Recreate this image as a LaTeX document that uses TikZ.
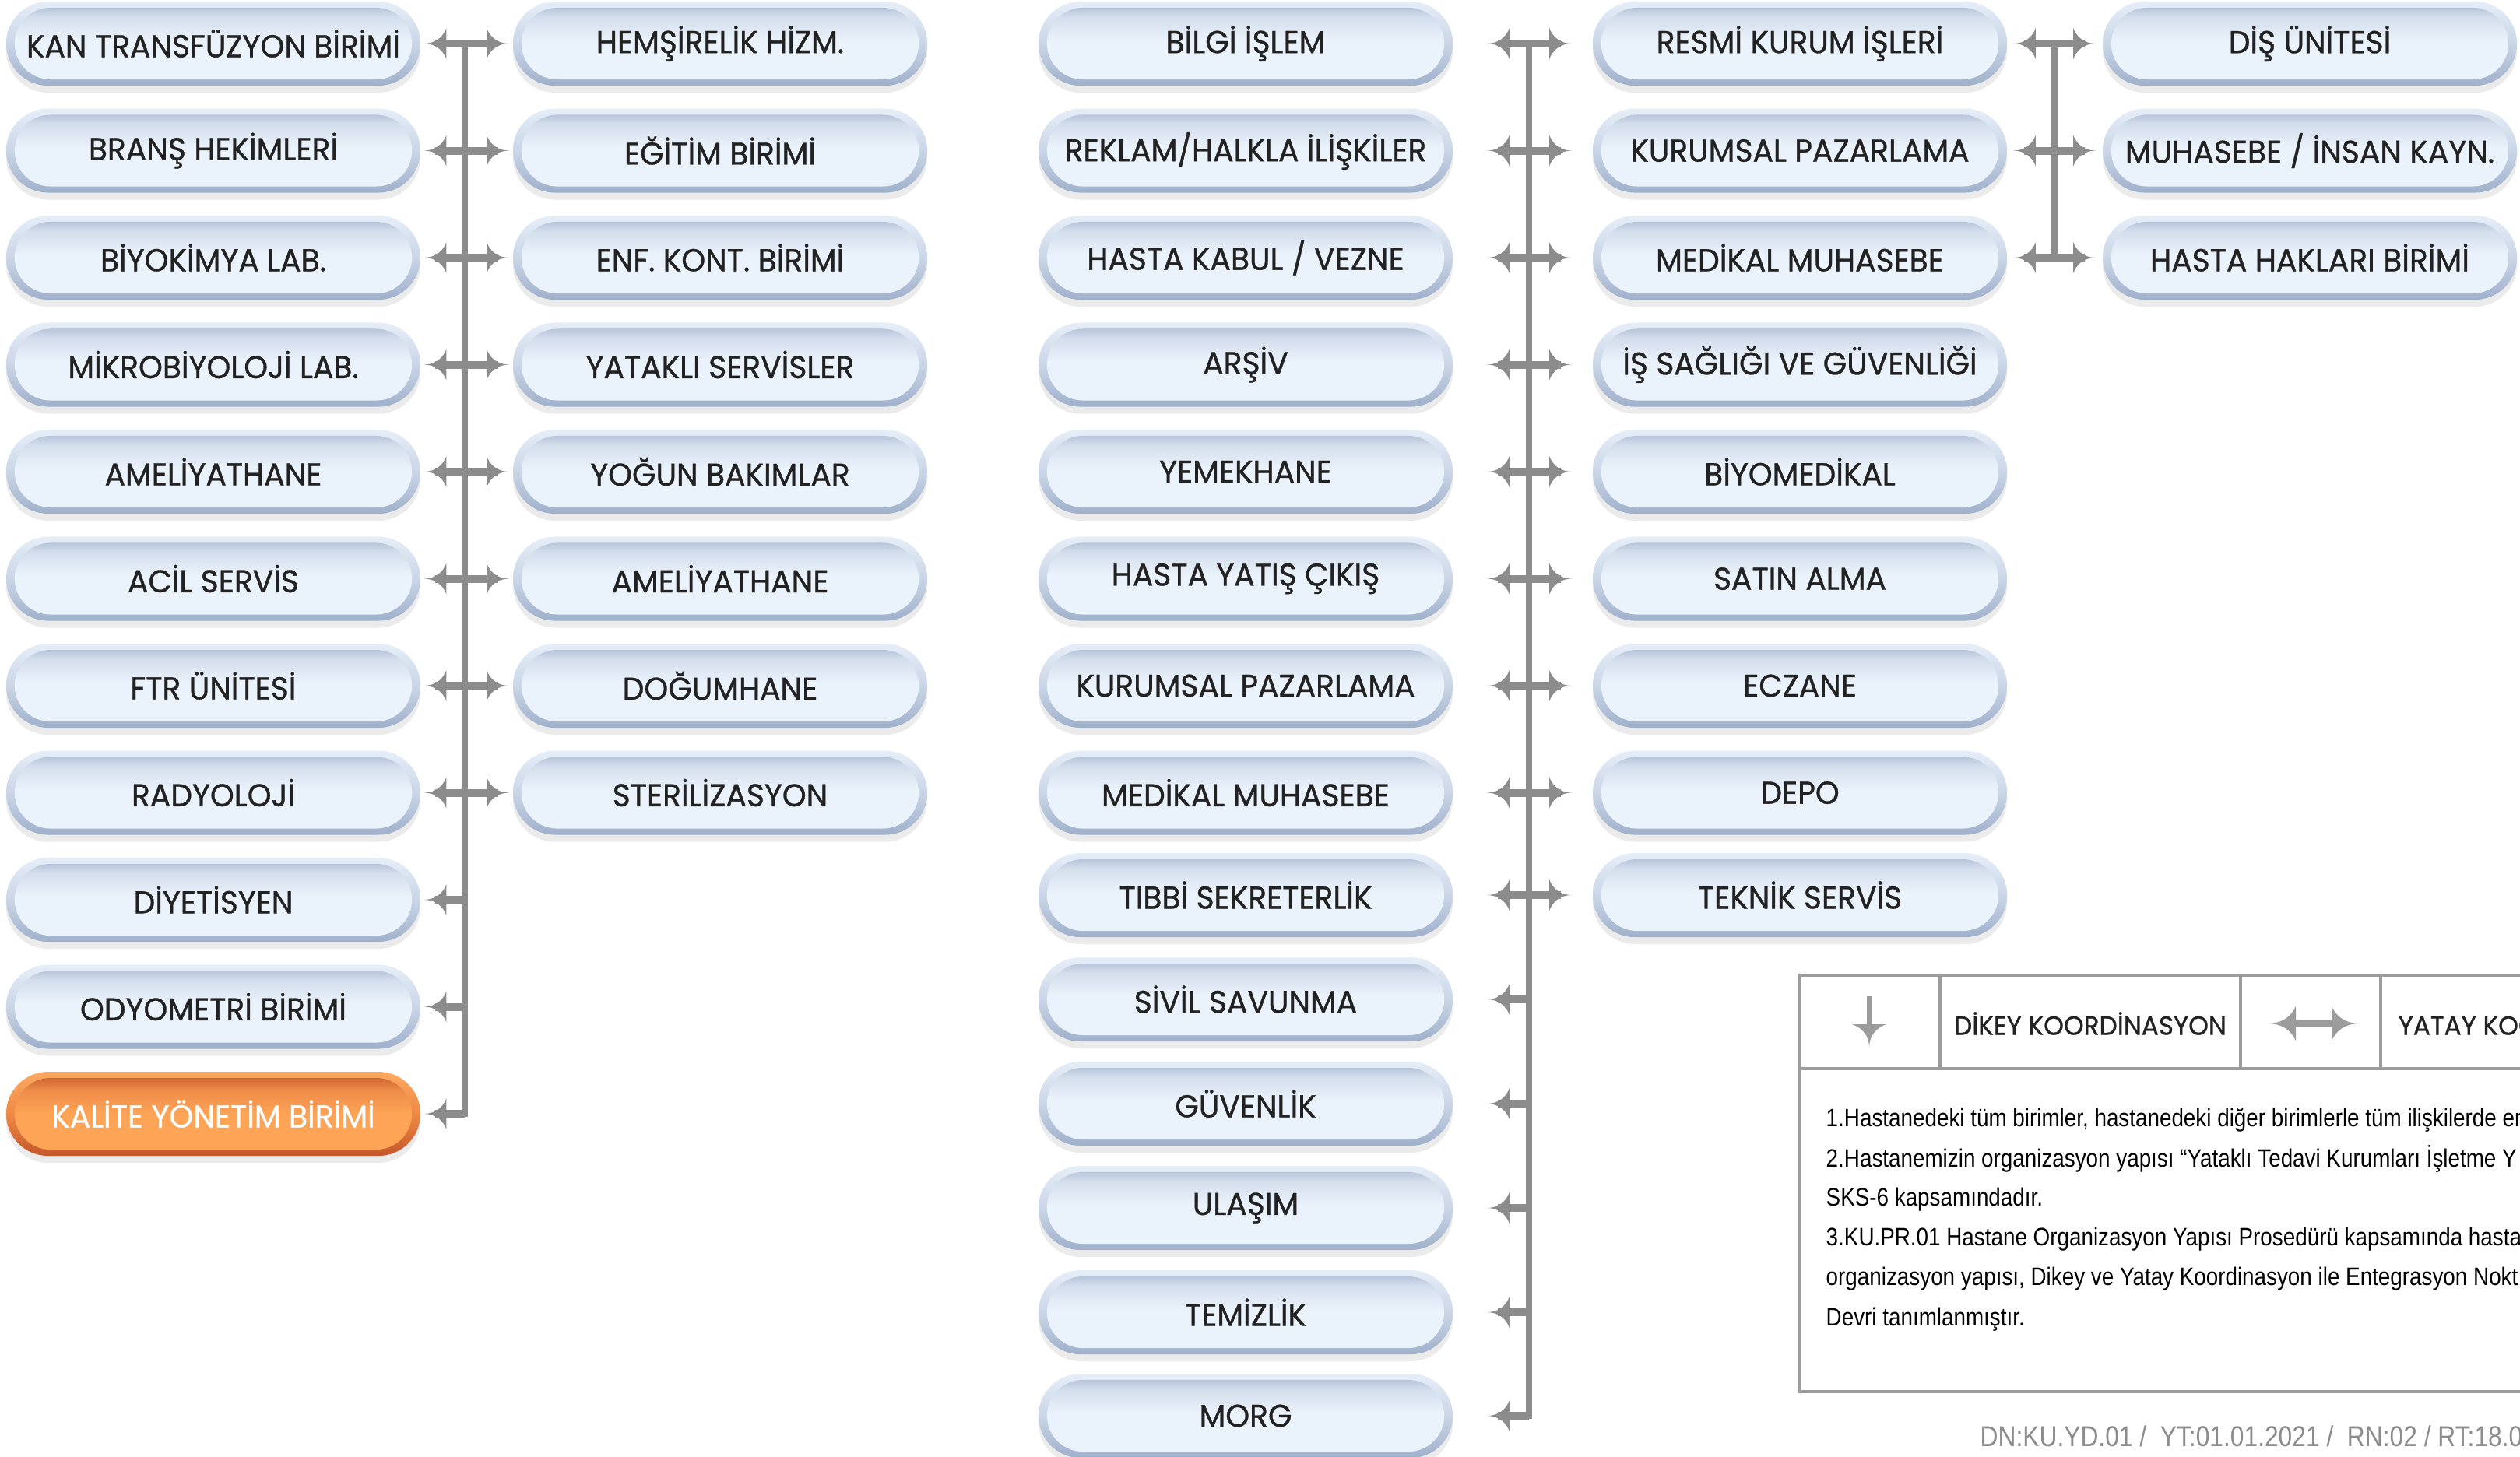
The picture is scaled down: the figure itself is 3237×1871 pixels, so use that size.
\documentclass[tikz,border=0pt]{standalone}
\usepackage{fontspec}
\usetikzlibrary{arrows.meta,shadows,positioning}
\newfontfamily\labelfont[FakeStretch=0.97, FakeBold=0.8]{Poppins}
\newfontfamily\notefont[FakeStretch=0.86]{Liberation Sans}

\definecolor{ink}{HTML}{222222}
\definecolor{ringtop}{HTML}{E6EEF8}
\definecolor{ringmid}{HTML}{CAD6E7}
\definecolor{ringbot}{HTML}{9FB0CB}
\definecolor{inhi}{HTML}{A4B4CE}
\definecolor{inmid}{HTML}{D3DEEC}
\definecolor{inlo}{HTML}{EAF2FB}
\definecolor{qringtop}{HTML}{FCA962}
\definecolor{qringmid}{HTML}{EE8A45}
\definecolor{qringbot}{HTML}{C4572A}
\definecolor{qinhi}{HTML}{C0542A}
\definecolor{qinmid}{HTML}{EE8C48}
\definecolor{qinlo}{HTML}{FDA457}
\definecolor{arrowgray}{HTML}{8C8C8C}
\definecolor{rulegray}{HTML}{9C9C9C}
\definecolor{footgray}{HTML}{8C8C8C}

\pgfdeclareverticalshading{innerblue}{100bp}{color(0bp)=(inlo); color(25bp)=(inlo); color(52bp)=(inlo); color(66bp)=(inmid); color(75bp)=(inhi); color(100bp)=(inhi)}
\pgfdeclareverticalshading{innerorange}{100bp}{color(0bp)=(qinlo); color(25bp)=(qinlo); color(50bp)=(qinlo); color(64bp)=(qinmid); color(75bp)=(qinhi); color(100bp)=(qinhi)}

% concave arrow head
\pgfdeclarearrow{
  name = Flare,
  parameters = {\the\pgfarrowlength,\the\pgfarrowwidth},
  setup code = {
    \pgfarrowssettipend{0pt}
    \pgfarrowssetlineend{-.5\pgfarrowlength}
    \pgfarrowssetbackend{-\pgfarrowlength}
    \pgfarrowshullpoint{0pt}{0pt}
    \pgfarrowsupperhullpoint{-\pgfarrowlength}{.5\pgfarrowwidth}
    \pgfarrowssavethe\pgfarrowlength
    \pgfarrowssavethe\pgfarrowwidth
  },
  drawing code = {
    \pgfpathmoveto{\pgfqpoint{0pt}{0pt}}
    \pgfpathcurveto{\pgfqpoint{-.5\pgfarrowlength}{0pt}}{\pgfqpoint{-.85\pgfarrowlength}{.2\pgfarrowwidth}}{\pgfqpoint{-\pgfarrowlength}{.5\pgfarrowwidth}}
    \pgfpathlineto{\pgfqpoint{-\pgfarrowlength}{-.5\pgfarrowwidth}}
    \pgfpathcurveto{\pgfqpoint{-.85\pgfarrowlength}{-.2\pgfarrowwidth}}{\pgfqpoint{-.5\pgfarrowlength}{0pt}}{\pgfqpoint{0pt}{0pt}}
    \pgfpathclose
    \pgfusepathqfill
  },
  defaults = {length=0.29cm, width=0.4cm}
}

\tikzset{
  unit/.style={rectangle, rounded corners=0.54cm, minimum width=5.32cm, minimum height=1.08cm,
    inner sep=0pt, text=ink, font=\labelfont\fontsize{11.5pt}{13pt}\selectfont,
    drop shadow={shadow xshift=0cm, shadow yshift=-0.09cm, opacity=0.08, fill=black},
    top color=ringtop, bottom color=ringbot, middle color=ringmid,
    path picture={\shade[shading=innerblue, rounded corners=0.46cm]
      ([shift={(11,8)}]path picture bounding box.north west) rectangle
      ([shift={(-11,-8)}]path picture bounding box.south east);}},
  unitq/.style={text=white, top color=qringtop, bottom color=qringbot, middle color=qringmid,
    path picture={\shade[shading=innerorange, rounded corners=0.46cm]
      ([shift={(11,8)}]path picture bounding box.north west) rectangle
      ([shift={(-11,-8)}]path picture bounding box.south east);}},
  bus/.style={draw=arrowgray, line width=0.085cm, line cap=rect},
  link/.style={draw=arrowgray, line width=0.1cm, {Flare}-{Flare}},
  tolink/.style={draw=arrowgray, line width=0.1cm, -{Flare}},
  hdr/.style={font=\labelfont\fontsize{9.6pt}{11pt}\selectfont, text=ink, inner sep=0pt},
  note/.style={anchor=base west, font=\notefont\fontsize{9.2pt}{11pt}\selectfont, text=black, inner sep=0pt},
}

\begin{document}
\begin{tikzpicture}[x=0.01cm, y=-0.01cm]
	\useasboundingbox (0,0) rectangle (3237,1871);
	\clip (0,0) rectangle (3237,1871);
	\coordinate (busa) at (597,0);
	\coordinate (busc) at (1964,0);
	\coordinate (busd) at (2639,0);
	\begin{scope}[every node/.style={unit}]
		\node (a1) at (274,56) {KAN TRANSFÜZYON BİRİMİ};
		\node (a2) at (274,193.5) {BRANŞ HEKİMLERİ};
		\node (a3) at (274,331) {BİYOKİMYA LAB.};
		\node (a4) at (274,468.5) {MİKROBİYOLOJİ LAB.};
		\node (a5) at (274,606) {AMELİYATHANE};
		\node (a6) at (274,743.5) {ACİL SERVİS};
		\node (a7) at (274,881) {FTR ÜNİTESİ};
		\node (a8) at (274,1018.5) {RADYOLOJİ};
		\node (a9) at (274,1156) {DİYETİSYEN};
		\node (a10) at (274,1293.5) {ODYOMETRİ BİRİMİ};
		\node[unitq] (a11) at (274,1431) {KALİTE YÖNETİM BİRİMİ};
		
		\node (b1) at (925,56) {HEMŞİRELİK HİZM.};
		\node (b2) at (925,193.5) {EĞİTİM BİRİMİ};
		\node (b3) at (925,331) {ENF. KONT. BİRİMİ};
		\node (b4) at (925,468.5) {YATAKLI SERVİSLER};
		\node (b5) at (925,606) {YOĞUN BAKIMLAR};
		\node (b6) at (925,743.5) {AMELİYATHANE};
		\node (b7) at (925,881) {DOĞUMHANE};
		\node (b8) at (925,1018.5) {STERİLİZASYON};
		
		\node (c1) at (1600,56) {BİLGİ İŞLEM};
		\node (c2) at (1600,193.5) {REKLAM/HALKLA İLİŞKİLER};
		\node (c3) at (1600,331) {HASTA KABUL / VEZNE};
		\node (c4) at (1600,468.5) {ARŞİV};
		\node (c5) at (1600,606) {YEMEKHANE};
		\node (c6) at (1600,743.5) {HASTA YATIŞ ÇIKIŞ};
		\node (c7) at (1600,881) {KURUMSAL PAZARLAMA};
		\node (c8) at (1600,1018.5) {MEDİKAL MUHASEBE};
		\node (c9) at (1600,1150) {TIBBİ SEKRETERLİK};
		\node (c10) at (1600,1284) {SİVİL SAVUNMA};
		\node (c11) at (1600,1418) {GÜVENLİK};
		\node (c12) at (1600,1552) {ULAŞIM};
		\node (c13) at (1600,1686) {TEMİZLİK};
		\node (c14) at (1600,1819) {MORG};
		
		\node (d1) at (2312,56) {RESMİ KURUM İŞLERİ};
		\node (d2) at (2312,193.5) {KURUMSAL PAZARLAMA};
		\node (d3) at (2312,331) {MEDİKAL MUHASEBE};
		\node (d4) at (2312,468.5) {İŞ SAĞLIĞI VE GÜVENLİĞİ};
		\node (d5) at (2312,606) {BİYOMEDİKAL};
		\node (d6) at (2312,743.5) {SATIN ALMA};
		\node (d7) at (2312,881) {ECZANE};
		\node (d8) at (2312,1018.5) {DEPO};
		\node (d9) at (2312,1150) {TEKNİK SERVİS};
		
		\node (e1) at (2967,56) {DİŞ ÜNİTESİ};
		\node (e2) at (2967,193.5) {MUHASEBE / İNSAN KAYN.};
		\node (e3) at (2967,331) {HASTA HAKLARI BİRİMİ};
	\end{scope}
	
	% buses
	\draw[bus] (a1 -| busa) -- (a11 -| busa);
	\draw[bus] (c1 -| busc) -- (c14 -| busc);
	\draw[bus] (d1 -| busd) -- (d3 -| busd);
	
	\begin{scope}[every edge/.style={link, shorten <=0.035cm, shorten >=0.04cm}]
		\path (a1) edge (b1);
		\path (a2) edge (b2);
		\path (a3) edge (b3);
		\path (a4) edge (b4);
		\path (a5) edge (b5);
		\path (a6) edge (b6);
		\path (a7) edge (b7);
		\path (a8) edge (b8);
	\end{scope}
	\begin{scope}[every edge/.style={tolink, shorten >=0.035cm}]
		\path (a9 -| busa) edge (a9);
		\path (a10 -| busa) edge (a10);
		\path (a11 -| busa) edge (a11);
	\end{scope}
	\begin{scope}[every edge/.style={link, shorten <=0.43cm, shorten >=0.26cm}]
		\path (c1) edge (d1);
		\path (c2) edge (d2);
		\path (c3) edge (d3);
		\path (c4) edge (d4);
		\path (c5) edge (d5);
		\path (c6) edge (d6);
		\path (c7) edge (d7);
		\path (c8) edge (d8);
		\path (c9) edge (d9);
	\end{scope}
	\begin{scope}[every edge/.style={tolink, shorten >=0.43cm}]
		\path (c10 -| busc) edge (c10);
		\path (c11 -| busc) edge (c11);
		\path (c12 -| busc) edge (c12);
		\path (c13 -| busc) edge (c13);
		\path (c14 -| busc) edge (c14);
	\end{scope}
	\begin{scope}[every edge/.style={link, shorten <=0.07cm, shorten >=0.08cm}]
		\path (d1) edge (e1);
		\path (d2) edge (e2);
		\path (d3) edge (e3);
	\end{scope}
	
	% legend
	\draw[rulegray, line width=0.04cm] (2312,1253) rectangle (3300,1788);
	\draw[rulegray, line width=0.04cm] (2312,1373) -- (3300,1373);
	\draw[rulegray, line width=0.04cm] (2492,1253) -- (2492,1373)
		(2878,1253) -- (2878,1373)
		(3058,1253) -- (3058,1373);
	\draw[draw=rulegray, line width=0.06cm, -{Flare[length=0.3cm, width=0.44cm]}] (2401,1280) -- (2401,1346);
	\draw[draw=rulegray, line width=0.08cm, {Flare[length=0.36cm, width=0.45cm]}-{Flare[length=0.36cm, width=0.45cm]}] (2913,1315) -- (3031,1315);
	\node[hdr] (dikey) at (2685,1315) {DİKEY KOORDİNASYON};
	\node[hdr, anchor=west] (yatay) at (3080,1315) {YATAY KOORDİNASYON};
	
	\node[note] (n1) at (2345,1447) {1.Hastanedeki tüm birimler, hastanedeki diğer birimlerle tüm ilişkilerde en};
	\node[note] (n2) at (2345,1499) {2.Hastanemizin organizasyon yapısı “Yataklı Tedavi Kurumları İşletme Y};
	\node[note] (n3) at (2345,1549) {SKS-6 kapsamındadır.};
	\node[note] (n4) at (2345,1600) {3.KU.PR.01 Hastane Organizasyon Yapısı Prosedürü kapsamında hasta};
	\node[note] (n5) at (2345,1651) {organizasyon yapısı, Dikey ve Yatay Koordinasyon ile Entegrasyon Nokt};
	\node[note] (n6) at (2345,1703) {Devri tanımlanmıştır.};
	
	\node[anchor=base west, inner sep=0pt, text=footgray, font=\notefont\fontsize{10.5pt}{12pt}\selectfont] (docno) at (2543,1858) {DN:KU.YD.01 /\ \ YT:01.01.2021 /\ \ RN:02 / RT:18.0};
\end{tikzpicture}
\end{document}
